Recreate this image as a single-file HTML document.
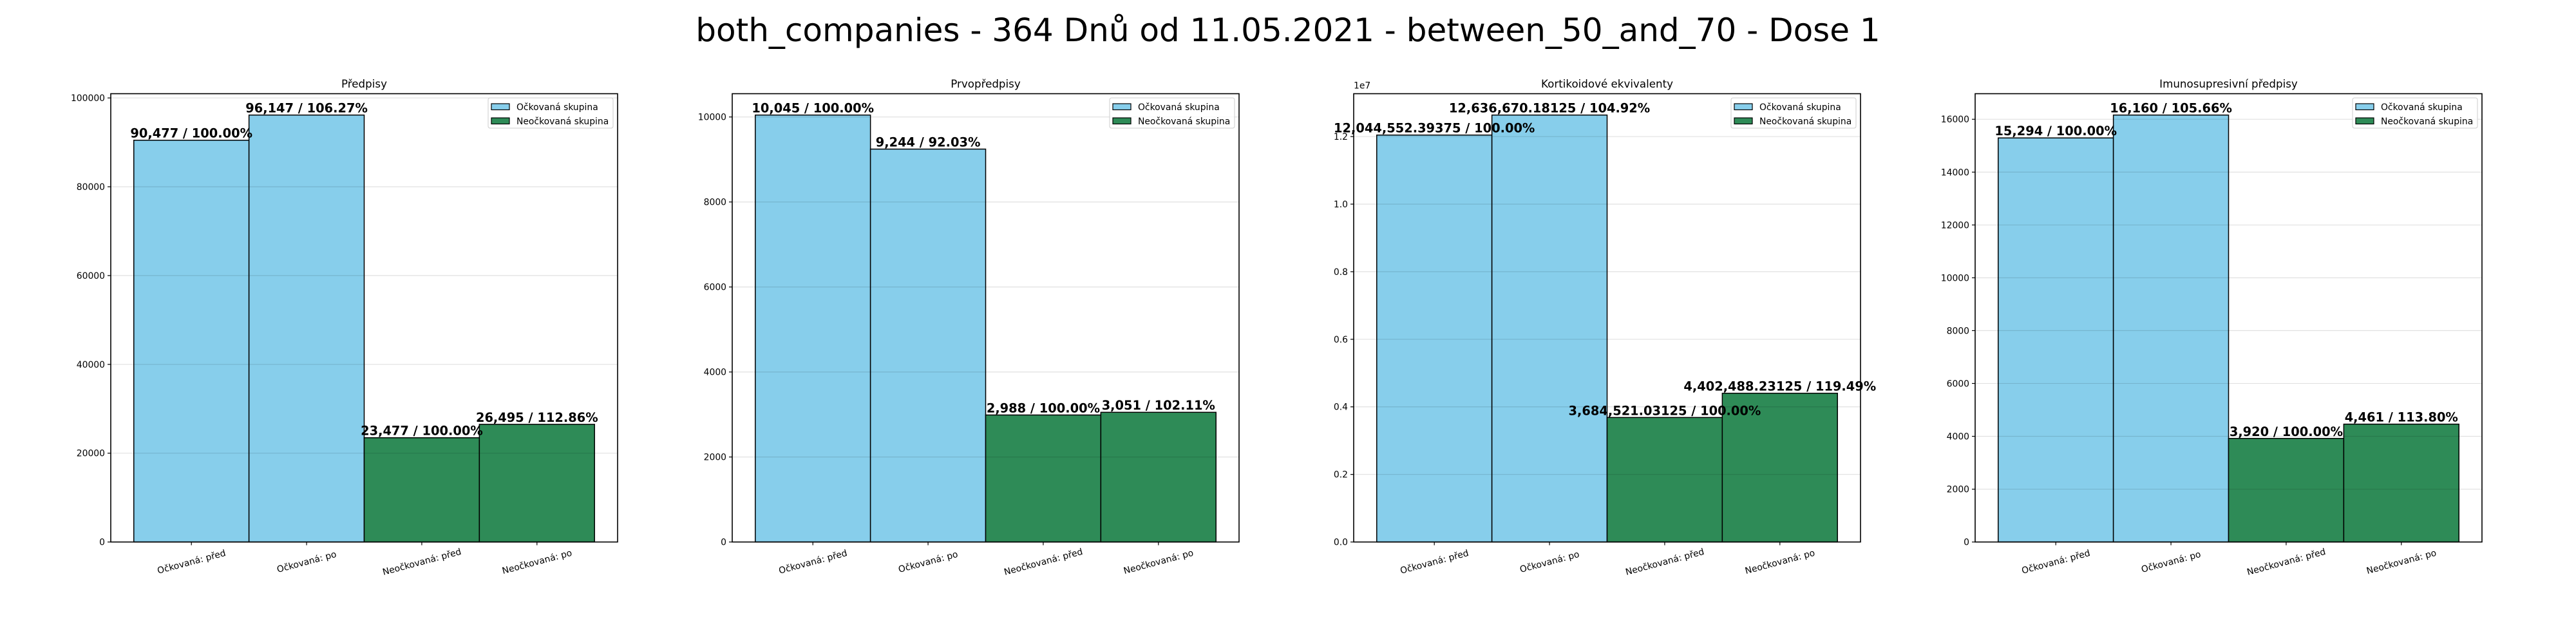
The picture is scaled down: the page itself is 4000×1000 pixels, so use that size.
<!DOCTYPE html>
<html><head><meta charset="utf-8"><style>
html,body{margin:0;padding:0;background:#fff;}
svg{display:block;font-family:"DejaVu Sans","Liberation Sans",sans-serif;}
</style></head><body>
<svg id="fig" width="4000" height="1000" viewBox="0 0 4000 1000" xmlns="http://www.w3.org/2000/svg">
<text x="2000" y="64" font-size="50" text-anchor="middle" fill="#000">both_companies - 364 Dnů od 11.05.2021 - between_50_and_70 - Dose 1</text>
</svg>
<script>
const categories = ["Očkovaná: před","Očkovaná: po","Neočkovaná: před","Neočkovaná: po"];
const chartTitles = ["Předpisy","Prvopředpisy","Kortikoidové ekvivalenty","Imunosupresivní předpisy"];
const valuesPredpisy = [90477, 96147, 23477, 26495];
const valuesPrvopredpisy = [10045, 9244, 2988, 3051];
const valuesKortikoidy = [12044552.39375, 12636670.18125, 3684521.03125, 4402488.23125];
const valuesImuno = [15294, 16160, 3920, 4461];
const labelsPredpisy = ["90,477 / 100.00%","96,147 / 106.27%","23,477 / 100.00%","26,495 / 112.86%"];
const labelsPrvopredpisy = ["10,045 / 100.00%","9,244 / 92.03%","2,988 / 100.00%","3,051 / 102.11%"];
const labelsKortikoidy = ["12,044,552.39375 / 100.00%","12,636,670.18125 / 104.92%","3,684,521.03125 / 100.00%","4,402,488.23125 / 119.49%"];
const labelsImuno = ["15,294 / 100.00%","16,160 / 105.66%","3,920 / 100.00%","4,461 / 113.80%"];
const ticksPredpisy = [0,20000,40000,60000,80000,100000];
const ticksPrvopredpisy = [0,2000,4000,6000,8000,10000];
const ticksKortikoidy = [0,2e6,4e6,6e6,8e6,10e6,12e6];
const tickLabelsKortikoidy = ["0.0","0.2","0.4","0.6","0.8","1.0","1.2"];
const ticksImuno = [0,2000,4000,6000,8000,10000,12000,14000,16000];
const legendLabels = ["Očkovaná skupina","Neočkovaná skupina"];

const NS = "http://www.w3.org/2000/svg";
const fig = document.getElementById('fig');
const colors = ["#87CEEB","#87CEEB","#2E8B57","#2E8B57"];
function mk(tag, attrs, parent){const e=document.createElementNS(NS,tag);for(const k in attrs)e.setAttribute(k,attrs[k]);parent.appendChild(e);return e;}

const charts = [
 {vals:valuesPredpisy, labs:labelsPredpisy, ticks:ticksPredpisy, tl:null, name:"predpisy"},
 {vals:valuesPrvopredpisy, labs:labelsPrvopredpisy, ticks:ticksPrvopredpisy, tl:null, name:"prvopredpisy"},
 {vals:valuesKortikoidy, labs:labelsKortikoidy, ticks:ticksKortikoidy, tl:tickLabelsKortikoidy, name:"kortikoidy", off:"1e7"},
 {vals:valuesImuno, labs:labelsImuno, ticks:ticksImuno, tl:null, name:"imuno"}
];
const TOP=145.5, BOT=841.6, W=787;
charts.forEach((c,ci)=>{
  const L = 172 + ci*965;
  const g = mk('g',{},fig);
  
  
  const ymax = Math.max(...c.vals)*1.05;
  const y = v => BOT - v/ymax*(BOT-TOP);
  const x = i => L + (i+0.7)/4.4*W;
  const bw = W/4.4;
  // bars
  c.vals.forEach((v,i)=>{
    const r = mk('rect',{x:x(i)-bw/2,y:y(v),width:bw,height:BOT-y(v),fill:colors[i],stroke:"#000","stroke-width":1.5},g);
    
    
  });
  // grid
  c.ticks.forEach(t=>{
    mk('line',{x1:L,x2:L+W,y1:y(t),y2:y(t),stroke:"rgba(0,0,0,0.12)","stroke-width":1.2},g);
  });
  // axes frame
  const fr = mk('rect',{x:L,y:TOP,width:W,height:BOT-TOP,fill:"none",stroke:"#000","stroke-width":1.6},g);
  
  
  // y ticks
  c.ticks.forEach((t,k)=>{
    mk('line',{x1:L-5,x2:L,y1:y(t),y2:y(t),stroke:"#000","stroke-width":1.2},g);
    const tx = mk('text',{x:L-9,y:y(t)+5,"font-size":13.9,"text-anchor":"end",fill:"#000"},g);
    tx.textContent = c.tl ? c.tl[k] : String(t);
    
    
  });
  if(c.off){
    const o = mk('text',{x:L,y:TOP-8,"font-size":13.9,fill:"#000"},g);
    o.textContent = c.off;
    
    
  }
  // x ticks
  categories.forEach((cat,i)=>{
    mk('line',{x1:x(i),x2:x(i),y1:BOT,y2:BOT+5,stroke:"#000","stroke-width":1.2},g);
    const cx=x(i), cy=872;
    const tx = mk('text',{x:cx,y:cy+5,"font-size":13.9,"text-anchor":"middle",fill:"#000",transform:`rotate(-15 ${cx} ${cy})`},g);
    tx.textContent = cat;
    
    
  });
  // value labels
  c.vals.forEach((v,i)=>{
    const tx = mk('text',{x:x(i),y:y(v)-4,"font-size":19.4,"font-weight":"bold","text-anchor":"middle",fill:"#000"},g);
    tx.textContent = c.labs[i];
    
    
  });
  // subplot title
  const st = mk('text',{x:L+W/2,y:136,"font-size":16.7,"text-anchor":"middle",fill:"#000"},g);
  st.textContent = chartTitles[ci];
  
  
  // legend
  const lg = mk('g',{},g);
  
  
  const lx = L+W-201, ly=152;
  mk('rect',{x:lx,y:ly,width:194,height:47,rx:3,fill:"#fff","fill-opacity":0.8,stroke:"#ccc","stroke-width":1},lg);
  legendLabels.forEach((lab,k)=>{
    const e = mk('g',{},lg);
    
    
    const yy = ly+9+k*22;
    mk('rect',{x:lx+5,y:yy,width:28,height:9.5,fill:k?"#2E8B57":"#87CEEB",stroke:"#000","stroke-width":1.2},e);
    const t = mk('text',{x:lx+44,y:yy+10,"font-size":13.9,fill:"#000"},e);
    t.textContent = lab;
  });
});
</script>
</body></html>
